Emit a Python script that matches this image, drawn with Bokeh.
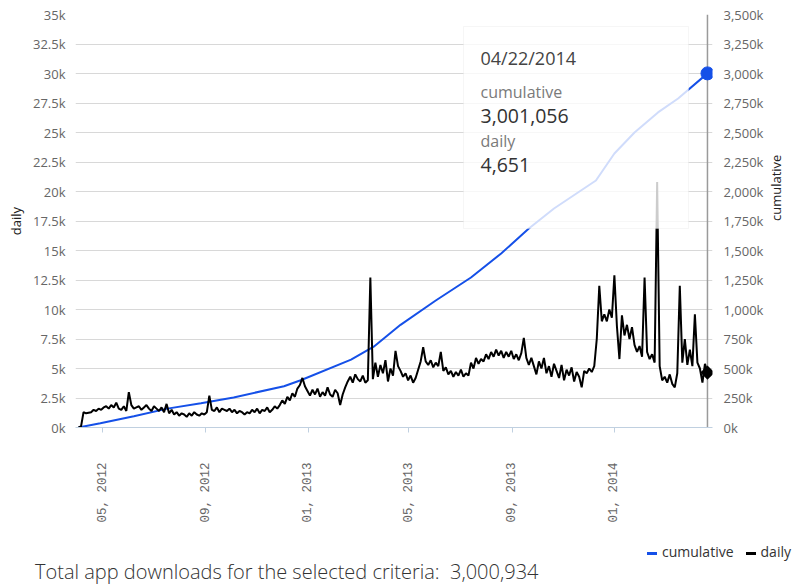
import datetime as dt
from bokeh.plotting import figure
from bokeh.layouts import column
from bokeh.models import (ColumnDataSource, Range1d, LinearAxis, FixedTicker,
                          BoxAnnotation, Label, Span, Div)
from bokeh.embed import file_html
from bokeh.resources import INLINE

# ---------------- data ----------------
DAILY_START = "2012-04-02"
DAILY_STEP_DAYS = 3
daily_values = [
    0, 100, 1300, 1200, 1250, 1300, 1500, 1400, 1600, 1500,
    1700, 1800, 1600, 1900, 1700, 2100, 1600, 1500, 1800, 1400,
    3000, 1900, 1600, 1700, 1800, 1500, 1700, 1900, 1600, 1400,
    1800, 1600, 1400, 1700, 1300, 2000, 1200, 1500, 1100, 1300,
    1000, 1200, 1100, 900, 1200, 1000, 1300, 1100, 1000, 1200,
    1100, 1300, 2700, 1500, 1400, 1700, 1300, 1600, 1500, 1400,
    1600, 1300, 1500, 1200, 1400, 1300, 1100, 1300, 1200, 1500,
    1300, 1600, 1200, 1500, 1400, 1700, 1300, 1500, 1800, 1600,
    1900, 2300, 2000, 2600, 2300, 2900, 2600, 3300, 3600, 4200,
    3500, 3100, 2700, 3200, 2800, 3300, 2600, 3000, 2700, 3400,
    2800, 2600, 3200, 2900, 1900, 2800, 3400, 3900, 4300, 3800,
    4500, 4100, 3900, 4400, 3800, 4000, 12700, 4100, 5500, 4300,
    5300, 4600, 5700, 3900, 5000, 4400, 6500, 5200, 4800, 4300,
    4600, 4000, 4400, 3800, 4200, 4900, 5600, 6800, 5600, 5300,
    5700, 5100, 5500, 5200, 6400, 4800, 5100, 4500, 4800, 4300,
    4700, 4400, 4900, 4300, 4600, 4400, 5500, 5000, 5900, 5400,
    5800, 5600, 6200, 5800, 6400, 6000, 6600, 6100, 6500, 5900,
    6400, 6000, 6500, 5800, 6200, 5700, 6300, 7600, 5900, 5300,
    5900, 5200, 4500, 5600, 5000, 5900, 4600, 5200, 4300, 5400,
    4800, 4200, 5300, 4000, 4900, 4400, 5100, 3900, 4700, 4300,
    3400, 4800, 4600, 5000, 4700, 5200, 7500, 12000, 9000, 9600,
    9000, 10000, 9300, 12900, 8600, 5800, 9500, 7800, 8700, 7500,
    8500, 7000, 6400, 6900, 6000, 12700, 6400, 5800, 6200, 5500,
    20800, 5200, 4000, 4300, 3800, 4500, 3700, 3400, 4600, 12000,
    5500, 7500, 5300, 6600, 5200, 9600, 5500, 5000, 3800, 5400, 4651,
]

cum_dates = ["2012-04-02", "2012-04-28", "2012-06-07", "2012-07-17", "2012-08-26",
             "2012-10-04", "2012-12-03", "2012-12-23", "2013-02-21", "2013-03-20",
             "2013-04-21", "2013-06-02", "2013-07-14", "2013-08-19", "2013-09-21",
             "2013-10-21", "2013-12-10", "2014-01-01", "2014-01-25", "2014-02-22",
             "2014-03-18", "2014-04-22"]
cum_values = [0, 36000, 95000, 160000, 205000, 255000, 350000, 400000, 575000, 685000,
              870000, 1076000, 1271000, 1475000, 1686000, 1856000, 2093000, 2322000,
              2500000, 2670000, 2788000, 3001056]

x_tick_dates = ["2012-05-01", "2012-09-01", "2013-01-01", "2013-05-01", "2013-09-01", "2014-01-01"]
x_tick_labels = ["05, 2012", "09, 2012", "01, 2013", "05, 2013", "09, 2013", "01, 2014"]
left_ticks = [0, 2500, 5000, 7500, 10000, 12500, 15000, 17500, 20000, 22500, 25000,
              27500, 30000, 32500, 35000]
left_tick_labels = ["0k", "2.5k", "5k", "7.5k", "10k", "12.5k", "15k", "17.5k", "20k",
                    "22.5k", "25k", "27.5k", "30k", "32.5k", "35k"]
right_ticks = [0, 250000, 500000, 750000, 1000000, 1250000, 1500000, 1750000, 2000000,
               2250000, 2500000, 2750000, 3000000, 3250000, 3500000]
right_tick_labels = ["0k", "250k", "500k", "750k", "1,000k", "1,250k", "1,500k", "1,750k",
                     "2,000k", "2,250k", "2,500k", "2,750k", "3,000k", "3,250k", "3,500k"]

series_names = ["cumulative", "daily"]
series_colors = ["#1550E8", "#000000"]

tooltip_date = "04/22/2014"
tooltip_cum_label = "cumulative"
tooltip_cum_value = "3,001,056"
tooltip_daily_label = "daily"
tooltip_daily_value = "4,651"
total_text = "Total app downloads for the selected criteria:  3,000,934"

# ---------------- build ----------------
def d(s):
    return dt.datetime.strptime(s, "%Y-%m-%d")

W, H1, H2 = 800, 530, 57
FL, FR, FT, FB = 75, 88, 14, 103          # borders around the main frame (px)
FW, FH = W - FL - FR, H1 - FT - FB

start = d(DAILY_START)
daily_dates = [start + dt.timedelta(days=DAILY_STEP_DAYS * i) for i in range(len(daily_values))]
daily_src = ColumnDataSource(dict(x=daily_dates, y=daily_values))
cum_src = ColumnDataSource(dict(x=[d(s) for s in cum_dates], y=cum_values))

FONT = "Open Sans"
x0 = daily_dates[0] - dt.timedelta(days=3.6)
x1 = daily_dates[-1] + dt.timedelta(days=6)
YMAX = left_ticks[-1]

def px_x(px):
    # pixel offset from frame left -> date
    return x0 + (x1 - x0) * (px / FW)

def px_y(px):
    # pixel offset from frame top -> left-axis data units
    return YMAX - px * YMAX / FH

p = figure(x_axis_type="datetime", output_backend="svg", toolbar_location=None,
           width=W, height=H1,
           min_border_left=FL, min_border_right=FR, min_border_top=FT, min_border_bottom=FB,
           x_range=Range1d(x0, x1), y_range=Range1d(0, YMAX))
p.outline_line_color = None
p.background_fill_color = "white"
p.border_fill_color = "white"
p.extra_y_ranges = {"cum": Range1d(0, right_ticks[-1])}

# left axis
ya = p.yaxis[0]
ya.ticker = FixedTicker(ticks=left_ticks, minor_ticks=[])
ya.major_label_overrides = {t: l for t, l in zip(left_ticks, left_tick_labels)}
ya.axis_line_color = None
ya.major_tick_line_color = None
ya.minor_tick_line_color = None
ya.major_tick_in = 0
ya.major_tick_out = 0
ya.minor_tick_out = 0
ya.major_label_text_font = FONT
ya.major_label_text_font_size = "13px"
ya.major_label_text_color = "#666666"
ya.major_label_standoff = 10
ya.axis_label = "daily"
ya.axis_label_text_font = FONT
ya.axis_label_text_font_size = "13px"
ya.axis_label_text_font_style = "normal"
ya.axis_label_text_color = "#222222"
ya.axis_label_standoff = 5

# right axis
ra = LinearAxis(y_range_name="cum", axis_label="cumulative")
ra.ticker = FixedTicker(ticks=right_ticks, minor_ticks=[])
ra.major_label_overrides = {t: l for t, l in zip(right_ticks, right_tick_labels)}
ra.axis_line_color = None
ra.major_tick_line_color = None
ra.minor_tick_line_color = None
ra.major_tick_in = 0
ra.major_tick_out = 0
ra.minor_tick_out = 0
ra.major_label_text_font = FONT
ra.major_label_text_font_size = "13px"
ra.major_label_text_color = "#666666"
ra.major_label_standoff = 11
ra.axis_label_text_font = FONT
ra.axis_label_text_font_size = "13px"
ra.axis_label_text_font_style = "normal"
ra.axis_label_text_color = "#222222"
ra.axis_label_standoff = 10
if "axis_label_orientation" in ra.properties():
    ra.axis_label_orientation = 1.5708
p.add_layout(ra, "right")

# x axis
xa = p.xaxis[0]
tick_ms = [d(s).timestamp() * 1000 for s in x_tick_dates]
xa.ticker = FixedTicker(ticks=tick_ms, minor_ticks=[])
xa.major_label_overrides = {t: l for t, l in zip(tick_ms, x_tick_labels)}
xa.major_label_orientation = 1.5708
xa.axis_line_color = "#C0D0E0"
xa.major_tick_line_color = "#C0D0E0"
xa.major_tick_in = 0
xa.major_tick_out = 5
xa.major_label_standoff = 30
xa.major_label_text_font = "Liberation Mono"
xa.major_label_text_font_size = "12.5px"
xa.major_label_text_color = "#666666"

p.xgrid.grid_line_color = None
p.ygrid.ticker = FixedTicker(ticks=left_ticks)
p.ygrid.grid_line_color = "#D8D8D8"
p.ygrid.grid_line_width = 1

# crosshair at hovered point
span = Span(location=daily_dates[-1], dimension="height", line_color="#9A9A9A",
            line_width=1.5, level="underlay")
p.add_layout(span)

BLUE, BLACK = series_colors
cum_line = p.line("x", "y", source=cum_src, y_range_name="cum", line_color=BLUE,
                  line_width=2)
daily_line = p.line("x", "y", source=daily_src, line_color=BLACK, line_width=2)

# hover markers at last points
p.scatter([cum_src.data["x"][-1]], [cum_values[-1]], y_range_name="cum", marker="circle",
          size=13, fill_color=BLUE, line_color=BLUE)
p.scatter([daily_dates[-1]], [daily_values[-1]], marker="square", angle=0.785398, size=10,
          fill_color=BLACK, line_color=None)

# tooltip box
box = BoxAnnotation(left=px_x(388), right=px_x(613), top=px_y(12), bottom=px_y(214),
                    fill_color="white", fill_alpha=0.8, line_color="#E2E2E2",
                    line_width=1, level="overlay")
p.add_layout(box)

for txt, py, size, color in [(tooltip_date, 43, "18px", "#444444"),
                             (tooltip_cum_label, 77, "16px", "#7A7A7A"),
                             (tooltip_cum_value, 101, "19.5px", "#333333"),
                             (tooltip_daily_label, 126, "16px", "#7A7A7A"),
                             (tooltip_daily_value, 150, "19.5px", "#333333")]:
    p.add_layout(Label(x=px_x(405), y=px_y(py), text=txt, text_font=FONT,
                       text_font_size=size, text_color=color,
                       text_baseline="alphabetic", text_align="left", level="overlay"))

# ---------------- footer: legend + total ----------------
items_html = "".join(
    '<span style="display:inline-block;margin-right:12px;">'
    '<span style="display:inline-block;width:10px;height:3px;background:%s;'
    'vertical-align:middle;margin-right:5px;"></span>%s</span>' % (c, n)
    for n, c in zip(series_names, series_colors))
footer_html = (
    '<div style="position:relative;width:%dpx;height:%dpx;overflow:hidden;'
    'font-family:\'Open Sans\',sans-serif;">'
    '<div style="position:absolute;left:647px;top:14px;font-size:14px;line-height:16px;'
    'color:#333333;white-space:nowrap;">%s</div>'
    '<div style="position:absolute;left:35px;top:28px;font-size:20px;line-height:27px;'
    'font-weight:300;color:#333333;white-space:pre;">%s</div>'
    '</div>' % (W, H2, items_html, total_text))
footer = Div(text=footer_html, width=W, height=H2, margin=0)

layout = column(p, footer, spacing=0)
open("out.html", "w").write(file_html(layout, INLINE))
